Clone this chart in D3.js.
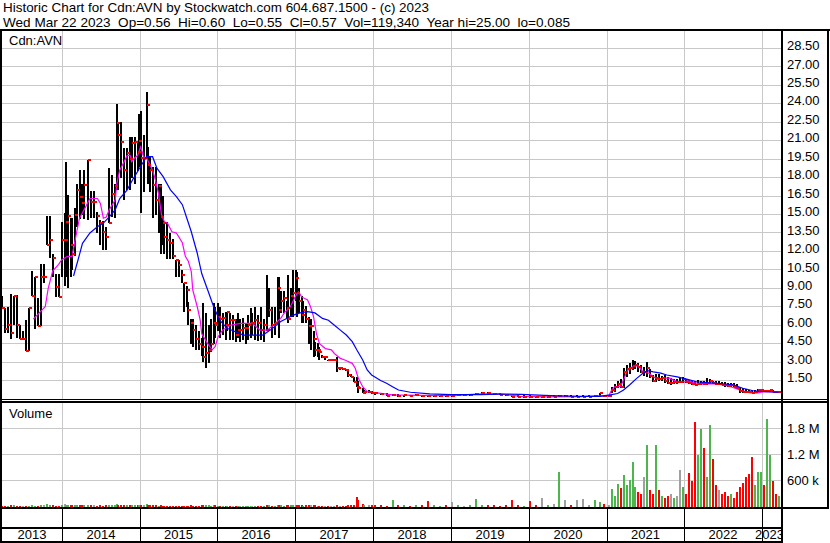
<!DOCTYPE html>
<html><head><meta charset="utf-8">
<script src="https://cdn.jsdelivr.net/npm/d3@7"></script>
<style>
body{margin:0;background:#fff}
svg{display:block}
text{font-family:"Liberation Sans",Arial,sans-serif;fill:#000}
</style>
</head><body>
<svg id="c" width="830" height="543"></svg>
<script>
// ---------------- DATA ----------------
const headerLine1 = "Historic Chart for Cdn:AVN by Stockwatch.com 604.687.1500 - (c) 2023";
const headerLine2 = "Wed Mar 22 2023  Op=0.56  Hi=0.60  Lo=0.55  Cl=0.57  Vol=119,340  Year hi=25.00  lo=0.085";
const symbolLabel = "Cdn:AVN";
const volumeLabel = "Volume";
const startDate = "2013-03-25";   // first plotted week
const endDate = "2023-03-22";     // last trading day shown

// week index (weeks since startDate)
const weeks = [0,2,4,6,8,10,12,14,16,18,20,22,24,26,28,30,32,34,36,38,40,
42,43,44,46,47,49,50,52,54,55,58,60,62,64,66,68,70,72,74,76,77,78,80,82,84,86,87,89,91,92,
93,95,97,98,99,101,103,105,107,108,109,111,113,115,117,119,121,122,124,125,127,128,130,132,134,135,137,139,140,142,143,145,
146,148,150,151,153,155,157,158,160,162,164,165,167,168,170,172,174,176,178,179,181,183,185,186,187,189,191,192,194,195,197,
198,199,201,202,204,206,207,209,210,212,213,215,217,219,221,223,225,227,229,231,232,234,236,238,239,242,243,246,248,
250,254,258,262,266,270,274,278,282,286,290,294,298,302,306,310,314,318,322,326,330,334,338,342,346,350,354,358,362,366,370,374,378,382,386,390,394,398,401,404,407,
409,411,413,415,417,419,421,423,425,427,429,431,433,435,437,439,441,443,445,447,449,451,453,455,457,459,461,463,465,467,469,471,473,475,477,479,481,483,485,487,489,491,493,495,497,499,501,503,505,507,509,511,513,515,517,519,521];
const highs = [8.4,7.4,7.5,8.5,8.4,8.45,6.0,5.5,6.45,7.4,10.4,9.9,8.2,11.0,11.0,14.9,14.9,11.8,10.2,10.2,14.4,
15.1,19.3,16.6,14.7,14.7,15.5,17.5,18.6,17.5,18.6,19.4,16.9,16.9,15.2,14.55,14.5,14.0,18.8,18.2,17.5,24.0,22.5,22.5,20.4,20.4,21.3,21.3,21.3,21.0,23.2,
23.4,21.5,25.0,20.5,19.7,18.9,18.9,17.5,17.5,16.5,14.4,14.4,13.5,13.0,11.3,11.3,10.5,9.4,9.2,7.9,6.5,6.5,6.0,5.5,5.0,7.8,7.0,6.0,6.5,7.8,7.5,7.8,
7.5,7.0,7.1,7.1,7.0,6.8,6.5,7.0,6.5,6.6,6.2,6.8,7.4,7.0,7.5,6.8,7.5,6.5,10.1,9.0,7.5,7.5,9.95,9.9,8.8,8.8,8.0,10.1,9.0,10.5,10.5,
10.3,9.0,8.4,8.0,7.6,6.7,6.5,5.5,4.6,4.55,4.2,3.6,3.5,3.2,3.2,3.2,3.44,2.6,2.5,2.4,2.36,2.0,1.8,1.8,1.5,0.9,0.7,0.7,0.65,
0.6,0.5,0.45,0.4,0.4,0.35,0.35,0.4,0.35,0.3,0.3,0.32,0.3,0.3,0.32,0.35,0.4,0.45,0.55,0.55,0.5,0.45,0.4,0.35,0.3,0.3,0.3,0.25,0.25,0.25,0.3,0.3,0.3,0.3,0.3,0.3,0.3,0.35,0.5,0.35,0.3,
1.0,1.2,1.5,1.6,2.5,2.76,2.9,3.17,3.1,2.9,2.8,2.6,3.0,2.4,1.95,2.0,2.0,1.9,1.95,1.8,1.7,1.6,1.6,1.7,1.8,1.6,1.55,1.5,1.5,1.55,1.45,1.5,1.7,1.6,1.5,1.45,1.45,1.4,1.35,1.3,1.3,1.3,1.2,1.0,0.9,0.85,0.75,0.7,0.75,0.8,0.85,0.75,0.7,0.7,0.7,0.65,0.6];
const lows = [7.4,5.4,5.4,4.9,6.0,5.0,4.9,4.9,3.9,3.9,8.4,5.7,5.9,5.9,9.4,12.5,11.5,9.9,8.3,8.3,9.9,
9.2,9.9,9.0,9.9,10.5,11.6,14.0,14.6,15.0,14.6,14.55,14.7,14.7,13.5,12.5,12.1,12.1,14.3,14.8,14.7,17.0,17.0,18.0,16.2,17.0,17.0,18.0,17.5,18.5,18.9,
15.1,16.8,19.7,17.5,16.8,14.7,15.0,13.5,11.8,12.5,11.8,11.4,11.4,11.4,9.9,9.9,9.4,7.1,7.5,6.0,4.5,4.2,4.0,4.0,3.5,3.0,2.5,2.9,3.8,4.5,5.0,5.5,
5.0,5.2,4.8,5.5,4.8,4.8,4.6,5.0,4.6,4.8,4.5,4.8,5.0,5.2,4.8,4.7,4.8,4.6,5.5,6.7,5.0,5.2,6.15,5.0,7.0,7.0,6.5,6.15,6.7,6.7,8.0,
6.7,7.0,6.15,6.2,6.15,4.5,4.0,3.44,3.5,3.4,3.2,3.3,3.2,3.1,3.1,3.17,2.2,2.36,2.36,2.3,1.8,1.8,1.4,1.0,0.5,0.46,0.5,0.5,0.4,
0.35,0.3,0.25,0.25,0.2,0.2,0.22,0.25,0.2,0.18,0.18,0.2,0.2,0.2,0.22,0.25,0.28,0.3,0.35,0.35,0.3,0.3,0.25,0.15,0.15,0.12,0.12,0.12,0.1,0.12,0.15,0.15,0.18,0.15,0.15,0.15,0.15,0.2,0.25,0.2,0.2,
0.45,0.6,0.9,0.9,0.9,1.8,2.0,2.36,2.4,2.2,2.1,1.9,1.8,1.7,1.4,1.4,1.5,1.5,1.3,1.2,1.14,1.2,1.2,1.3,1.28,1.3,1.2,1.14,1.1,1.14,1.1,1.1,1.14,1.2,1.2,1.14,1.1,1.1,1.0,1.0,1.0,1.0,0.8,0.46,0.5,0.46,0.46,0.46,0.5,0.55,0.55,0.55,0.55,0.55,0.55,0.5,0.55];
const closes = [7.4,5.7,6.0,5.4,8.4,6.0,4.9,4.9,3.9,7.4,8.4,9.9,5.9,9.9,9.9,12.5,12.9,11.5,9.1,8.3,12.9,
12.9,14.4,14.9,12.5,11.8,15.0,17.0,16.45,15.9,17.4,19.4,16.0,16.0,14.9,14.3,13.6,13.2,14.3,16.7,17.3,22.4,21.5,20.9,18.6,20.0,19.5,20.8,20.9,20.1,21.0,
19.6,19.6,23.9,19.0,18.6,17.4,16.2,17.3,14.8,14.3,13.2,12.9,12.65,11.6,11.3,10.9,10.1,9.4,8.86,7.2,6.15,5.6,4.9,4.5,4.25,3.44,3.7,4.0,4.5,6.15,6.0,6.7,
6.5,6.6,6.0,7.1,6.4,6.4,5.2,5.6,5.6,5.75,5.8,6.0,6.15,6.15,6.4,6.2,5.6,6.0,5.6,7.2,6.0,6.2,9.0,7.2,8.0,8.2,7.4,6.5,8.4,8.6,9.8,
8.6,8.0,6.8,7.2,6.5,5.9,5.9,4.9,4.0,4.0,3.85,3.44,3.44,3.17,3.17,3.17,2.5,2.5,2.4,2.36,1.95,1.8,1.4,1.0,0.9,0.46,0.6,0.6,0.5,
0.45,0.4,0.27,0.3,0.25,0.3,0.28,0.35,0.25,0.22,0.25,0.28,0.25,0.25,0.3,0.3,0.35,0.4,0.5,0.45,0.4,0.35,0.3,0.2,0.18,0.2,0.18,0.15,0.15,0.2,0.2,0.22,0.22,0.2,0.2,0.2,0.2,0.25,0.46,0.25,0.25,
0.73,1.0,1.2,1.0,2.2,2.4,2.5,2.7,2.8,2.6,2.2,2.2,2.5,1.9,1.5,1.7,1.6,1.7,1.5,1.3,1.3,1.4,1.4,1.4,1.6,1.4,1.3,1.2,1.15,1.2,1.3,1.25,1.3,1.45,1.3,1.2,1.2,1.15,1.1,1.05,1.1,1.0,0.9,0.62,0.6,0.57,0.54,0.5,0.55,0.7,0.72,0.65,0.68,0.7,0.6,0.55,0.57];
// volume in thousands of shares, same weeks
const volumesK = [30,25,20,35,40,25,20,15,30,25,45,30,25,40,35,60,50,35,30,25,55,
60,50,45,40,35,40,45,50,40,35,45,40,35,30,35,30,35,45,40,35,60,55,50,45,40,45,40,50,40,55,
50,45,60,40,35,40,35,30,35,30,25,30,25,30,25,20,25,30,25,30,35,30,25,30,35,40,45,35,30,40,35,30,
25,30,25,20,25,30,25,20,25,30,25,20,25,30,25,20,25,30,40,35,30,25,45,40,35,30,35,40,35,45,50,
45,40,35,30,35,40,45,40,35,30,25,30,25,20,25,30,35,30,25,30,35,40,50,230,160,60,50,45,40,
40,35,30,160,40,35,30,45,40,130,35,30,40,120,35,30,40,180,45,40,35,30,40,150,35,30,130,40,200,45,60,810,150,50,170,180,50,150,120,60,50,
420,260,540,430,730,500,620,1040,450,350,300,690,1440,400,300,1420,400,250,200,250,300,200,250,850,450,300,790,600,1950,1200,1800,1350,700,1900,1100,500,400,300,350,250,300,200,350,450,550,690,770,1150,500,800,810,500,2020,1200,600,300,250];

// short moving average (magenta)
const maShortWeeks = [21,29,31,34,38,40,44,47,48,50,52,56,59,64,66,68,70,72,76,77,79,82,84,86,87,89,91,93,95,97,101,103,105,107,109,111,114,117,121,123,125,127,128,131,133,134,138,141,143,145,148,153,160,168,173,178,182,187,190,193,198,199,201,205,207,209,211,213,217,221,223,227,230,235,237,239,242,245,262,280,301,321,334,348,368,388,401,407,409,411,415,417,419,421,425,427,430,434,437,440,444,448,453,458,460,464,470,475,480,484,489,495,502,507,511,515,521];
const maShortValues = [6.5,7.5,9.0,10.4,10.95,11.3,11.6,11.6,12.25,13.5,14.7,15.6,16.3,16.3,15.9,14.7,14.8,15.4,16.2,17.5,18.6,19.3,19.8,19.8,19.3,19.6,19.8,20.5,19.7,19.6,18.6,17.8,16.7,15.0,14.4,14.3,13.6,13.5,12.7,11.6,11.2,10.35,8.86,7.5,6.4,5.3,4.5,4.0,4.25,5.07,5.6,6.0,6.15,6.15,5.6,5.6,6.0,6.55,7.1,7.4,8.6,8.7,8.3,8.05,7.5,6.7,5.3,4.5,4.1,4.0,3.7,3.3,3.17,2.9,2.5,1.7,1.0,0.6,0.33,0.3,0.28,0.42,0.42,0.22,0.18,0.2,0.25,0.24,0.73,1.0,1.05,1.55,2.2,2.5,2.7,2.7,2.2,2.1,1.8,1.6,1.7,1.7,1.4,1.4,1.5,1.33,1.2,1.25,1.2,1.14,1.0,0.73,0.5,0.5,0.6,0.6,0.55];
// long moving average (blue)
const maLongWeeks = [48,51,54,59,64,68,72,76,79,84,88,93,97,101,104,108,113,117,121,124,127,131,134,138,142,146,151,155,162,168,175,180,187,191,195,200,205,210,215,219,223,227,231,235,238,242,245,248,254,258,262,266,274,287,301,321,334,348,368,388,401,408,413,417,421,426,430,433,437,442,446,453,460,466,473,480,487,491,497,504,511,521];
const maLongValues = [10.0,11.3,12.66,13.5,14.0,14.3,14.8,15.4,16.3,17.0,17.9,18.9,19.7,19.7,18.75,18.1,17.0,16.45,15.8,14.7,13.6,11.85,10.2,8.86,7.5,6.4,5.75,5.55,5.2,5.2,5.2,5.6,6.3,6.55,6.8,7.0,7.1,7.0,6.55,6.4,6.0,5.6,5.2,4.66,4.0,3.17,2.36,1.95,1.5,1.28,1.0,0.73,0.55,0.42,0.35,0.35,0.4,0.38,0.28,0.22,0.22,0.33,0.45,0.73,1.14,1.7,2.1,2.3,2.2,2.1,1.95,1.8,1.6,1.4,1.33,1.28,1.2,1.14,0.87,0.67,0.6,0.55];

const priceTicks = [1.5,3,4.5,6,7.5,9,10.5,12,13.5,15,16.5,18,19.5,21,22.5,24,25.5,27,28.5];
const priceTickLabels = ["1.50","3.00","4.50","6.00","7.50","9.00","10.50","12.00","13.50","15.00","16.50","18.00","19.50","21.00","22.50","24.00","25.50","27.00","28.50"];
const volumeTicks = [600000,1200000,1800000];
const volumeTickLabels = ["600 k","1.2 M","1.8 M"];
const yearLabels = ["2013","2014","2015","2016","2017","2018","2019","2020","2021","2022","2023"];

// ---------------- LAYOUT ----------------
const W = 830, H = 543;
const plotL = 2, plotR = 781;
const priceTop = 31, priceBot = 399;
const volTop = 403, volBot = 507;
const FONT = 13;

const svg = d3.select("#c");
const parse = d3.utcParse("%Y-%m-%d");
const t0 = parse(startDate), t1 = parse(endDate);
const weekDate = w => d3.utcDay.offset(t0, w * 7);

const x = d3.scaleUtc().domain([t0, t1]).range([2, 779]);
const y = d3.scaleLinear().domain([0, 29.92]).range([priceBot, priceTop]);
const yv = d3.scaleLinear().domain([0, 2420000]).range([volBot, 402]);

const yearStarts = yearLabels.slice(1).map(s => parse(s + "-01-01"));
const yearX = yearStarts.map(d => Math.round(x(d)));

const defs = svg.append("defs");
defs.append("clipPath").attr("id","cp").append("rect").attr("x",plotL).attr("y",priceTop).attr("width",plotR-plotL).attr("height",priceBot-priceTop);
defs.append("clipPath").attr("id","cv").append("rect").attr("x",plotL).attr("y",volTop).attr("width",plotR-plotL).attr("height",volBot-volTop);
defs.append("clipPath").attr("id","cy").append("rect").attr("x",0).attr("y",509).attr("width",plotR).attr("height",34);

// header (two tight lines, stretched to the reference widths)
svg.append("text").attr("x",3).attr("y",12).style("font-size","13px").style("white-space","pre")
  .attr("textLength",426).attr("lengthAdjust","spacingAndGlyphs").text(headerLine1);
svg.append("text").attr("x",3).attr("y",27).style("font-size","13px").style("white-space","pre")
  .attr("textLength",567).attr("lengthAdjust","spacingAndGlyphs").text(headerLine2);

// grids
const grid = svg.append("g").attr("stroke","#c8c8c8").attr("stroke-width",1).attr("shape-rendering","crispEdges");
grid.selectAll(".gp").data(priceTicks).join("line")
  .attr("x1",plotL).attr("x2",plotR).attr("y1",d=>Math.floor(y(d))+0.5).attr("y2",d=>Math.floor(y(d))+0.5);
grid.selectAll(".gv").data(volumeTicks).join("line")
  .attr("x1",plotL).attr("x2",plotR).attr("y1",d=>Math.floor(yv(d))+0.5).attr("y2",d=>Math.floor(yv(d))+0.5);
grid.selectAll(".gx1").data(yearX).join("line")
  .attr("x1",d=>d+0.5).attr("x2",d=>d+0.5).attr("y1",priceTop).attr("y2",priceBot);
grid.selectAll(".gx2").data(yearX).join("line")
  .attr("x1",d=>d+0.5).attr("x2",d=>d+0.5).attr("y1",volTop).attr("y2",volBot);

// price bars
const bars = weeks.map((w,i)=>({w, d:weekDate(w), hi:highs[i], lo:lows[i], cl:closes[i], v:volumesK[i]*1000,
  dir: i===0 ? -1 : Math.sign(closes[i]-closes[i-1])}));
const gp = svg.append("g").attr("clip-path","url(#cp)").attr("shape-rendering","crispEdges");
gp.selectAll(".bar").data(bars).join("rect")
  .attr("x",d=>Math.round(x(d.d))-1).attr("width",2)
  .attr("y",d=>Math.round(y(d.hi)))
  .attr("height",d=>Math.max(1,Math.round(y(d.lo))-Math.round(y(d.hi))))
  .attr("fill","#000");

const line = d3.line().x(d=>x(weekDate(d[0]))).y(d=>y(d[1]));
gp.append("path").datum(maShortWeeks.map((w,i)=>[w,maShortValues[i]]))
  .attr("d",line).attr("fill","none").attr("stroke","#ff00ff").attr("stroke-width",1.2).attr("shape-rendering","auto");
gp.selectAll(".cl").data(bars).join("rect")
  .attr("x",d=>Math.round(x(d.d))).attr("width",3)
  .attr("y",d=>Math.round(y(d.cl))-1).attr("height",2).attr("fill","#ff0000");
gp.append("path").datum(maLongWeeks.map((w,i)=>[w,maLongValues[i]]))
  .attr("d",line).attr("fill","none").attr("stroke","#0000ff").attr("stroke-width",1.2).attr("shape-rendering","auto");

// volume bars
const gvb = svg.append("g").attr("clip-path","url(#cv)").attr("shape-rendering","crispEdges");
gvb.selectAll("rect").data(bars).join("rect")
  .attr("x",d=>Math.round(x(d.d))-1).attr("width",2)
  .attr("y",d=>Math.round(yv(d.v)))
  .attr("height",d=>Math.max(1,volBot-Math.round(yv(d.v))))
  .attr("fill",d=>d.dir>0?"#4cb64c":(d.dir<0?"#ff0000":"#a0a0a0"));

// labels inside panels
svg.append("text").attr("x",9).attr("y",45).style("font-size",FONT+"px").text(symbolLabel);
svg.append("text").attr("x",9).attr("y",418).style("font-size",FONT+"px").text(volumeLabel);

// right axes (labels only)
const ay = svg.append("g").attr("transform","translate(783,0)")
  .call(d3.axisRight(y).tickValues(priceTicks).tickSize(0).tickPadding(4).tickFormat((d,i)=>priceTickLabels[i]));
ay.select(".domain").remove();
ay.selectAll("text").attr("dy","0.32em").attr("y",-3).style("font-size",FONT+"px").style("font-family","'Liberation Sans',Arial,sans-serif").attr("fill","#000");
const av = svg.append("g").attr("transform","translate(783,0)")
  .call(d3.axisRight(yv).tickValues(volumeTicks).tickSize(0).tickPadding(4).tickFormat((d,i)=>volumeTickLabels[i]));
av.select(".domain").remove();
av.selectAll("text").attr("dy","0.32em").attr("y",-1).style("font-size",FONT+"px").style("font-family","'Liberation Sans',Arial,sans-serif").attr("fill","#000");

// frame lines
const fr = svg.append("g").attr("fill","#000").attr("shape-rendering","crispEdges");
fr.append("rect").attr("x",0).attr("y",29).attr("width",W).attr("height",2);
fr.append("rect").attr("x",0).attr("y",29).attr("width",2).attr("height",H-29);
fr.append("rect").attr("x",781).attr("y",29).attr("width",2).attr("height",H-29);
fr.append("rect").attr("x",827).attr("y",29).attr("width",2).attr("height",volBot+2-29);
fr.append("rect").attr("x",0).attr("y",priceBot).attr("width",829).attr("height",1);
fr.append("rect").attr("x",0).attr("y",401).attr("width",829).attr("height",2);
fr.append("rect").attr("x",0).attr("y",volBot).attr("width",829).attr("height",2);
fr.append("rect").attr("x",0).attr("y",527).attr("width",783).attr("height",2);
fr.append("rect").attr("x",0).attr("y",541).attr("width",783).attr("height",2);
fr.selectAll(".sep").data(yearX).join("rect")
  .attr("x",d=>d).attr("y",509).attr("width",1).attr("height",32);

// year labels
const bounds = [plotL, ...yearX, plotR];
svg.append("g").attr("clip-path","url(#cy)").selectAll("text").data(yearLabels).join("text")
  .attr("x",(d,i)=>(bounds[i]+bounds[i+1])/2 - (i===yearLabels.length-1?2:0))
  .attr("y",539).attr("text-anchor","middle").style("font-size",FONT+"px").text(d=>d);
</script>
</body></html>
